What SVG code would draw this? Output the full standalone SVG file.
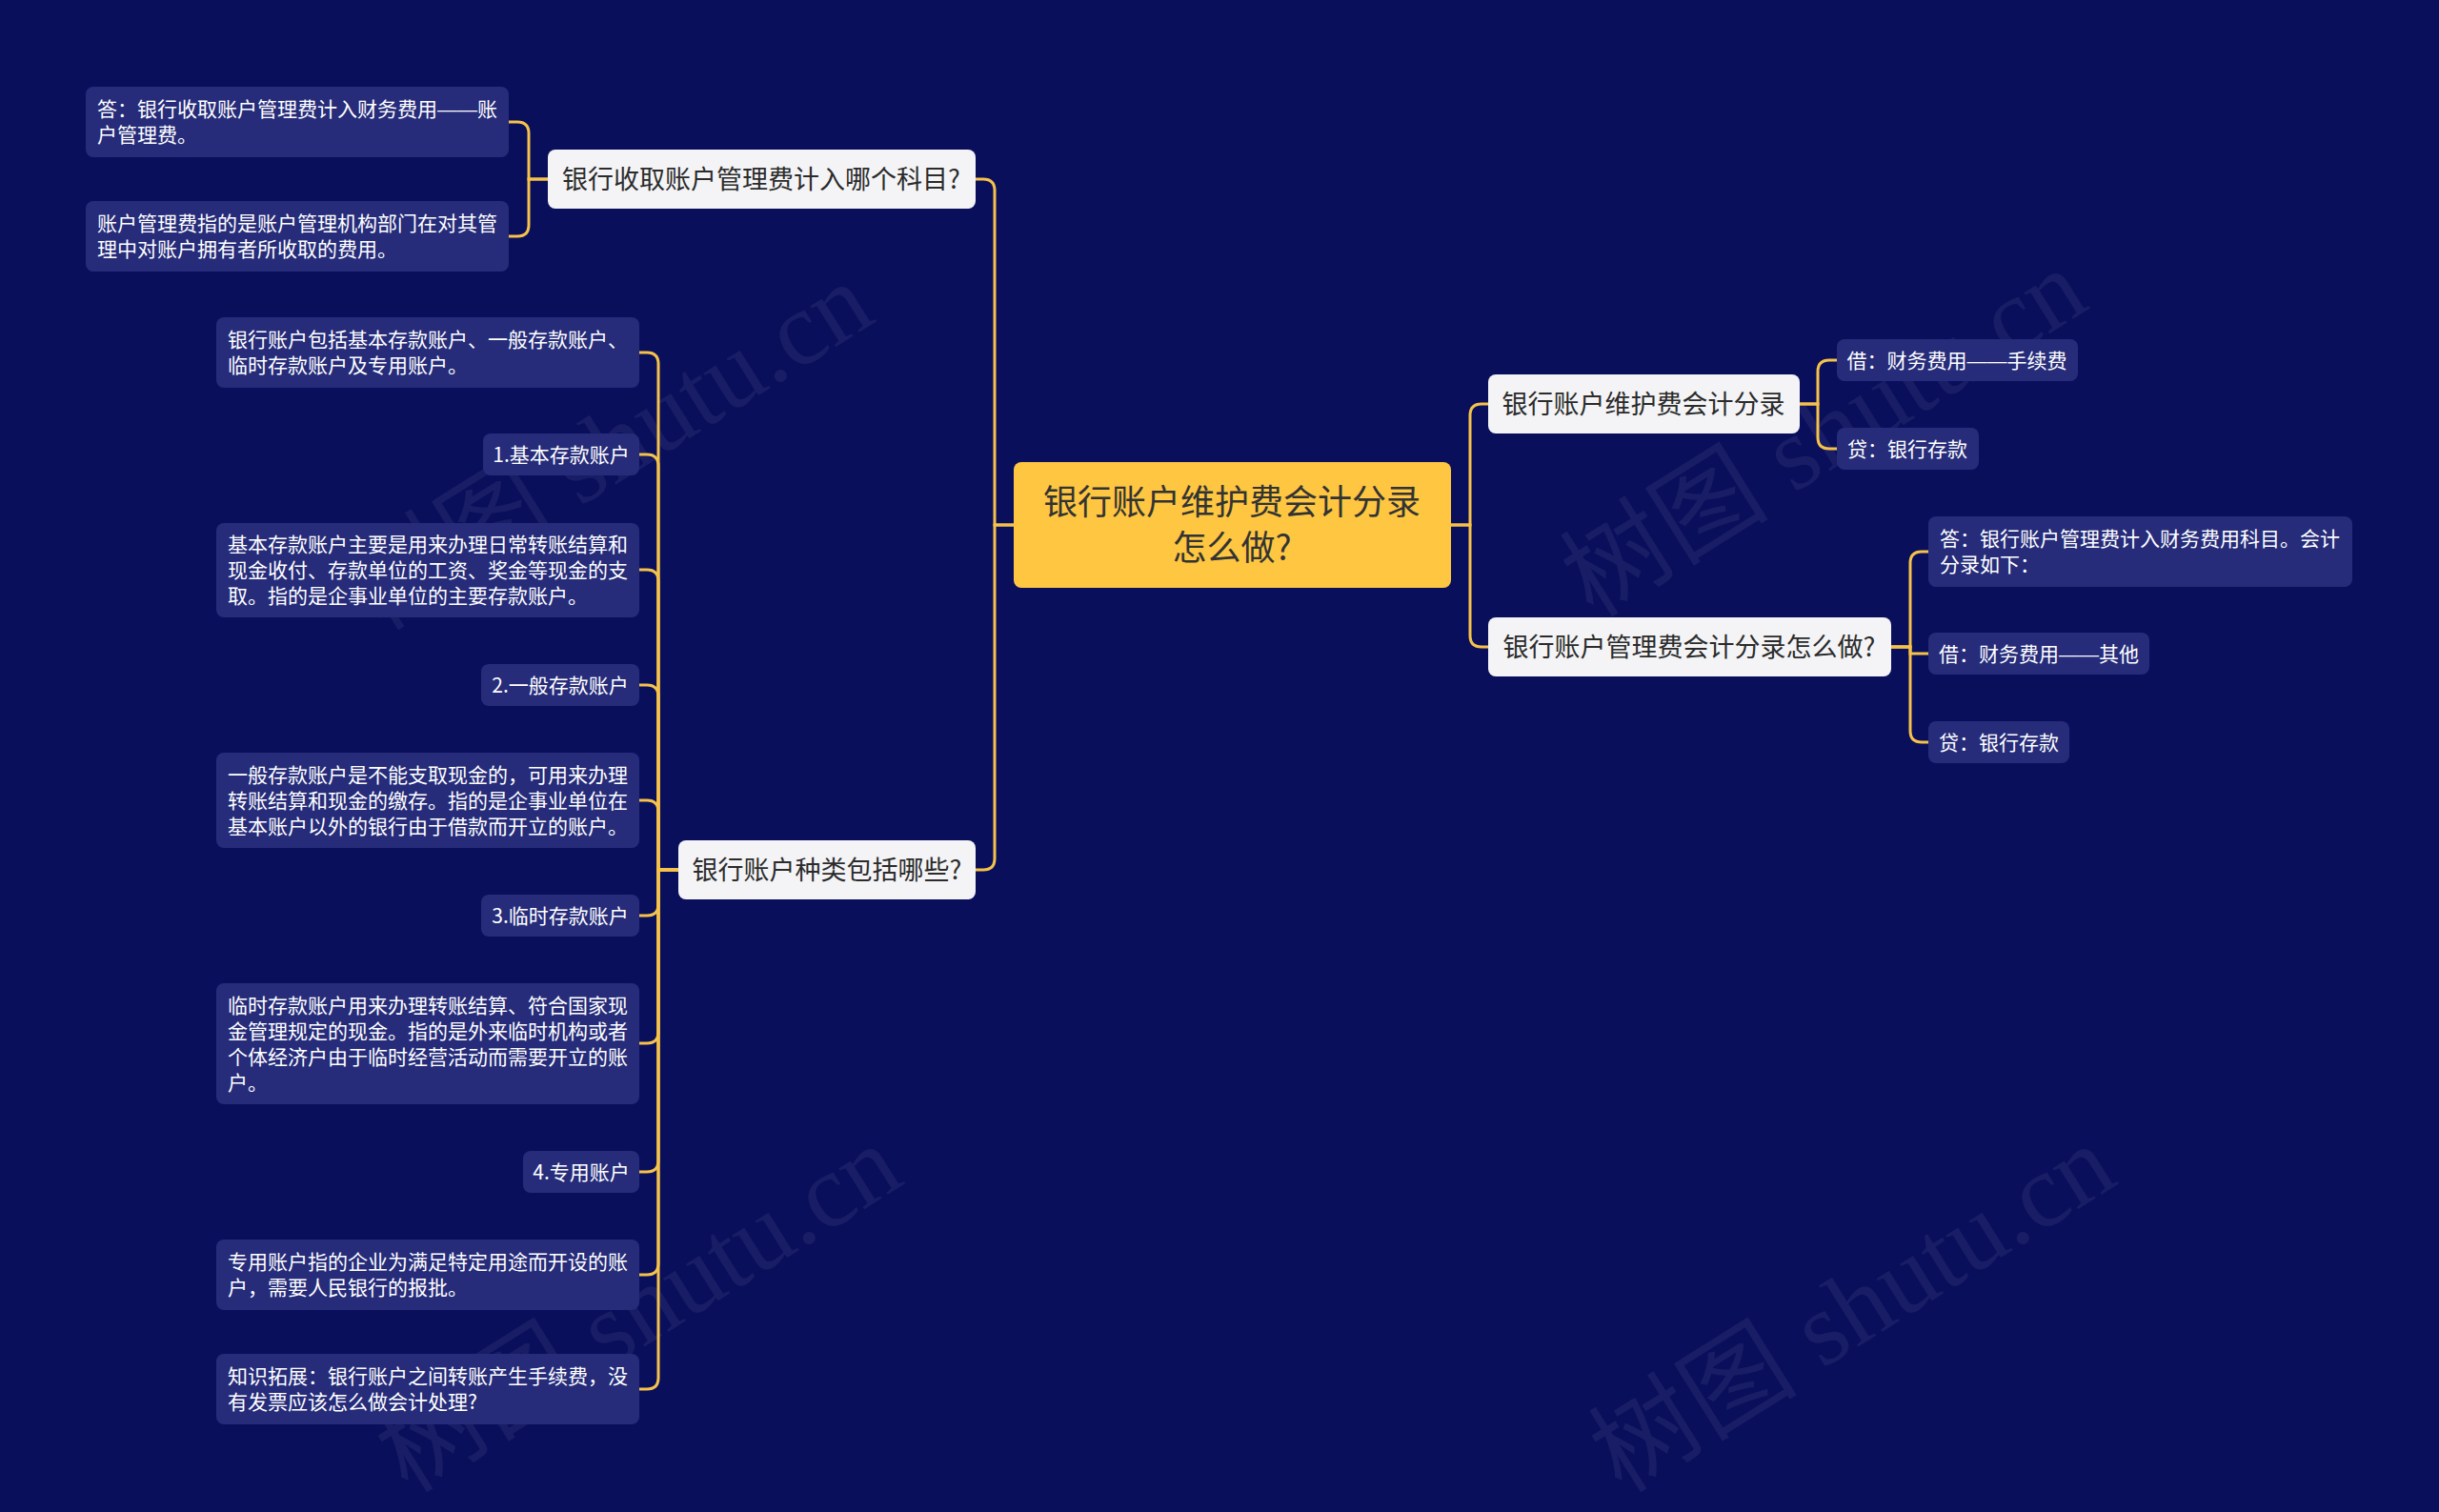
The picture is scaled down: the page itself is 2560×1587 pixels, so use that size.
<svg xmlns="http://www.w3.org/2000/svg" width="2560" height="1587" viewBox="0 0 2560 1587">
<style>
.bg{fill:#0a0f5c}
.wm{font-family:"Liberation Serif","Noto Sans CJK SC",serif;font-size:110px;fill:#ffffff;fill-opacity:0.06}
.root rect{fill:#fec641}
.root text{font-family:"Noto Sans CJK SC","Noto Sans",sans-serif;font-size:36px;fill:#333333;text-anchor:middle}
.l2 rect{fill:#f4f4f6}
.l2 text{font-family:"Noto Sans CJK SC","Noto Sans",sans-serif;font-size:27px;fill:#2b2b2b;text-anchor:middle}
.l3 rect{fill:#262c7a}
.l3 text{font-family:"Noto Sans CJK SC","Noto Sans",sans-serif;font-size:21px;fill:#ffffff}
.c{text-anchor:middle}
.d{font-family:"Liberation Sans",sans-serif}
#connectors path{fill:none;stroke:#f5c24a;stroke-width:3}
</style>
<rect class="bg" x="0" y="0" width="2560" height="1587"/>
<g id="watermarks">
<text class="wm" transform="translate(660,500) rotate(-32)" text-anchor="middle">树图 shutu.cn</text>
<text class="wm" transform="translate(1934,486) rotate(-32)" text-anchor="middle">树图 shutu.cn</text>
<text class="wm" transform="translate(690,1405) rotate(-32)" text-anchor="middle">树图 shutu.cn</text>
<text class="wm" transform="translate(1964,1405) rotate(-32)" text-anchor="middle">树图 shutu.cn</text>
</g>
<g id="connectors">
<path d="M1064,551 H1044 V200 Q1044,188 1032,188 H1024"/>
<path d="M1064,551 H1044 V901 Q1044,913 1032,913 H1024"/>
<path d="M1523,551 H1543 V436 Q1543,424 1555,424 H1562"/>
<path d="M1523,551 H1543 V667 Q1543,679 1555,679 H1562"/>
<path d="M575,188 H555 V140 Q555,128 543,128 H534"/>
<path d="M575,188 H555 V236 Q555,248 543,248 H534"/>
<path d="M712,913 H691 V382 Q691,370 679,370 H671"/>
<path d="M712,913 H691 V489 Q691,477 679,477 H671"/>
<path d="M712,913 H691 V610 Q691,598 679,598 H671"/>
<path d="M712,913 H691 V731 Q691,719 679,719 H671"/>
<path d="M712,913 H691 V852 Q691,840 679,840 H671"/>
<path d="M712,913 H691 V949 Q691,961 679,961 H671"/>
<path d="M712,913 H691 V1083 Q691,1095 679,1095 H671"/>
<path d="M712,913 H691 V1218 Q691,1230 679,1230 H671"/>
<path d="M712,913 H691 V1326 Q691,1338 679,1338 H671"/>
<path d="M712,913 H691 V1446 Q691,1458 679,1458 H671"/>
<path d="M1889,424 H1908 V390 Q1908,378 1920,378 H1928"/>
<path d="M1889,424 H1908 V459 Q1908,471 1920,471 H1928"/>
<path d="M1985,679 H2005 V591 Q2005,579 2017,579 H2024"/>
<path d="M1985,679 H2005 V686 H2024"/>
<path d="M1985,679 H2005 V767 Q2005,779 2017,779 H2024"/>
</g>
<g id="root" class="root">
<rect x="1064" y="485" width="459" height="132" rx="8"/>
<text x="1293" y="540">银行账户维护费会计分录</text>
<text x="1293" y="588">怎么做?</text>
</g>
<g id="nodeA" class="l2">
<rect x="575" y="157" width="449" height="62" rx="8"/>
<text x="799" y="198">银行收取账户管理费计入哪个科目?</text>
</g>
<g id="nodeB" class="l2">
<rect x="712" y="882" width="312" height="62" rx="8"/>
<text x="868" y="923">银行账户种类包括哪些?</text>
</g>
<g id="nodeC" class="l2">
<rect x="1562" y="393" width="327" height="62" rx="8"/>
<text x="1725" y="434">银行账户维护费会计分录</text>
</g>
<g id="nodeD" class="l2">
<rect x="1562" y="648" width="423" height="62" rx="8"/>
<text x="1773" y="689">银行账户管理费会计分录怎么做?</text>
</g>
<g id="nodeA1" class="l3">
<rect x="90" y="91" width="444" height="74" rx="8"/>
<text x="102" y="122">答：银行收取账户管理费计入财务费用<tspan class="d">——</tspan>账</text>
<text x="102" y="149">户管理费。</text>
</g>
<g id="nodeA2" class="l3">
<rect x="90" y="211" width="444" height="74" rx="8"/>
<text x="102" y="242">账户管理费指的是账户管理机构部门在对其管</text>
<text x="102" y="269">理中对账户拥有者所收取的费用。</text>
</g>
<g id="nodeB1" class="l3">
<rect x="227" y="333" width="444" height="74" rx="8"/>
<text x="239" y="364">银行账户包括基本存款账户、一般存款账户、</text>
<text x="239" y="391">临时存款账户及专用账户。</text>
</g>
<g id="nodeB2" class="l3">
<rect x="507" y="455" width="164" height="44" rx="8"/>
<text class="c" x="589" y="485">1.基本存款账户</text>
</g>
<g id="nodeB3" class="l3">
<rect x="227" y="549" width="444" height="99" rx="8"/>
<text x="239" y="579">基本存款账户主要是用来办理日常转账结算和</text>
<text x="239" y="606">现金收付、存款单位的工资、奖金等现金的支</text>
<text x="239" y="633">取。指的是企事业单位的主要存款账户。</text>
</g>
<g id="nodeB4" class="l3">
<rect x="505" y="697" width="166" height="44" rx="8"/>
<text class="c" x="588" y="727">2.一般存款账户</text>
</g>
<g id="nodeB5" class="l3">
<rect x="227" y="790" width="444" height="100" rx="8"/>
<text x="239" y="821">一般存款账户是不能支取现金的，可用来办理</text>
<text x="239" y="848">转账结算和现金的缴存。指的是企事业单位在</text>
<text x="239" y="875">基本账户以外的银行由于借款而开立的账户。</text>
</g>
<g id="nodeB6" class="l3">
<rect x="505" y="939" width="166" height="44" rx="8"/>
<text class="c" x="588" y="969">3.临时存款账户</text>
</g>
<g id="nodeB7" class="l3">
<rect x="227" y="1032" width="444" height="127" rx="8"/>
<text x="239" y="1063">临时存款账户用来办理转账结算、符合国家现</text>
<text x="239" y="1090">金管理规定的现金。指的是外来临时机构或者</text>
<text x="239" y="1117">个体经济户由于临时经营活动而需要开立的账</text>
<text x="239" y="1144">户。</text>
</g>
<g id="nodeB8" class="l3">
<rect x="549" y="1208" width="122" height="44" rx="8"/>
<text class="c" x="610" y="1238">4.专用账户</text>
</g>
<g id="nodeB9" class="l3">
<rect x="227" y="1301" width="444" height="74" rx="8"/>
<text x="239" y="1332">专用账户指的企业为满足特定用途而开设的账</text>
<text x="239" y="1359">户，需要人民银行的报批。</text>
</g>
<g id="nodeB10" class="l3">
<rect x="227" y="1421" width="444" height="74" rx="8"/>
<text x="239" y="1452">知识拓展：银行账户之间转账产生手续费，没</text>
<text x="239" y="1479">有发票应该怎么做会计处理?</text>
</g>
<g id="nodeC1" class="l3">
<rect x="1928" y="356" width="253" height="44" rx="8"/>
<text class="c" x="2054" y="386">借：财务费用<tspan class="d">——</tspan>手续费</text>
</g>
<g id="nodeC2" class="l3">
<rect x="1928" y="449" width="149" height="44" rx="8"/>
<text class="c" x="2002" y="479">贷：银行存款</text>
</g>
<g id="nodeD1" class="l3">
<rect x="2024" y="542" width="445" height="74" rx="8"/>
<text x="2036" y="573">答：银行账户管理费计入财务费用科目。会计</text>
<text x="2036" y="600">分录如下：</text>
</g>
<g id="nodeD2" class="l3">
<rect x="2024" y="664" width="232" height="44" rx="8"/>
<text class="c" x="2140" y="694">借：财务费用<tspan class="d">——</tspan>其他</text>
</g>
<g id="nodeD3" class="l3">
<rect x="2024" y="757" width="148" height="44" rx="8"/>
<text class="c" x="2098" y="787">贷：银行存款</text>
</g>
</svg>
